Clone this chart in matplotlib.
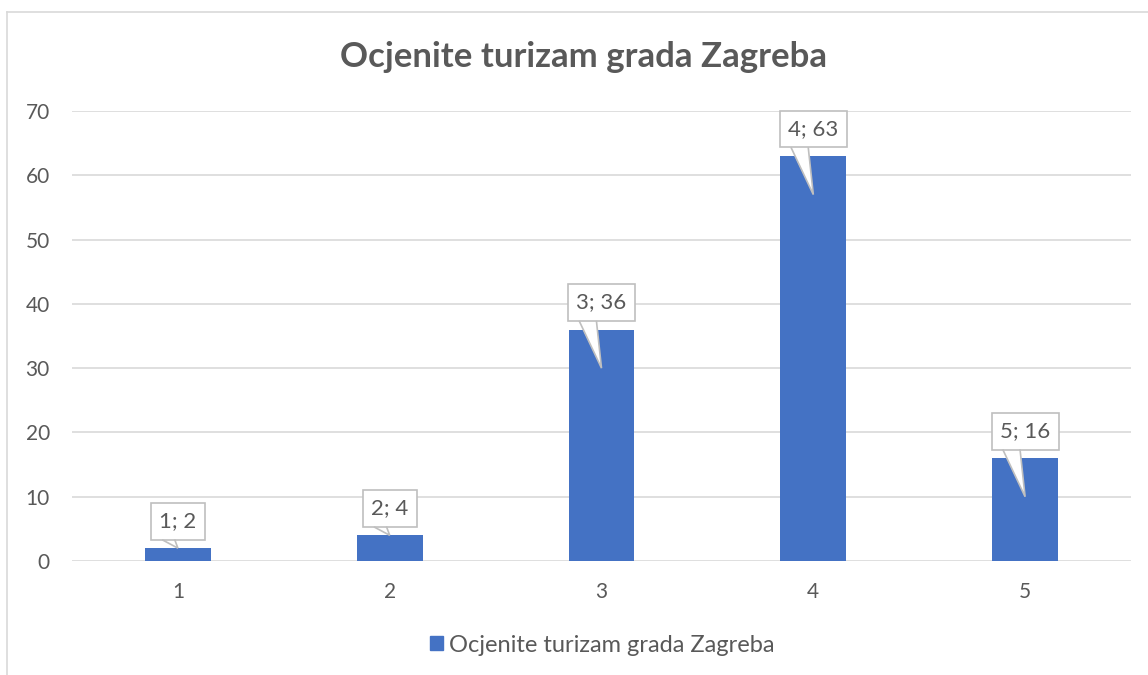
import matplotlib
matplotlib.use("Agg")
import matplotlib.pyplot as plt
from matplotlib.patches import Polygon, Patch
from matplotlib.lines import Line2D

# data
cats = [1, 2, 3, 4, 5]
vals = [2, 4, 36, 63, 16]
yticks = [0, 10, 20, 30, 40, 50, 60, 70]
title = "Ocjenite turizam grada Zagreba"
series = "Ocjenite turizam grada Zagreba"

BLUE = "#4472C4"; INK = "#595959"; GRID = "#D9D9D9"; EDGE = "#BFBFBF"
plt.rcParams.update({"font.family": ["Lato", "DejaVu Sans"], "text.color": INK,
                     "xtick.color": INK, "ytick.color": INK})

W, H = 1148, 675
fig = plt.figure(figsize=(W / 100, H / 100), dpi=100)
ax = fig.add_axes([72 / W, 1 - 561 / H, (1131 - 72) / W, 450 / H])

ax.bar(cats, vals, width=0.31, color=BLUE, zorder=3)
ax.set_xlim(0.5, 5.5); ax.set_ylim(0, 70)
ax.set_xticks(cats); ax.set_yticks(yticks)
ax.grid(True, axis="y", color=GRID, lw=1.2); ax.set_axisbelow(True)
for s in ax.spines.values():
    s.set_visible(False)
ax.tick_params(axis="both", length=0, labelsize=15)
ax.tick_params(axis="y", pad=16)
ax.tick_params(axis="x", pad=15)

# data callouts
ppx = ax.bbox.width / 5
ppy = ax.bbox.height / 70
for c, v in zip(cats, vals):
    ty = v + 27 / ppy
    ax.text(c, ty, f"{c}; {v}", ha="center", va="center", fontsize=16, color=INK, zorder=5,
            bbox=dict(boxstyle="square,pad=0.38", fc="white", ec=EDGE, lw=1.2))
    tall = v > 10
    tip = v - 6 if tall else v
    by = v + 7 / ppy
    x0, x1 = (c - 22 / ppx, c - 5 / ppx) if tall else (c - 15 / ppx, c - 3 / ppx)
    ax.add_patch(Polygon([(x0, by), (c, tip), (x1, by)], closed=True, fc="white", ec="none", zorder=6))
    ax.plot([x0, c, x1], [by + 1 / ppy, tip, by + 1 / ppy], color=EDGE, lw=1.2, zorder=6, solid_joinstyle="miter")

fig.text(584 / W, 1 - 57 / H, title, ha="center", va="center", fontsize=25, fontweight="bold", color=INK)

fig.legend(handles=[Patch(color=BLUE)], labels=[series], loc="center", bbox_to_anchor=(602 / W, 1 - 645 / H),
           frameon=False, fontsize=17, handlelength=0.55, handleheight=0.55, handletextpad=0.25)

# chart border (left and top visible)
fig.add_artist(Line2D([7 / W, 7 / W], [0, 1 - 12 / H], transform=fig.transFigure, color=GRID, lw=1.2))
fig.add_artist(Line2D([7 / W, 1], [1 - 12 / H, 1 - 12 / H], transform=fig.transFigure, color=GRID, lw=1.2))

fig.savefig("out.png", dpi=100, facecolor="white")
